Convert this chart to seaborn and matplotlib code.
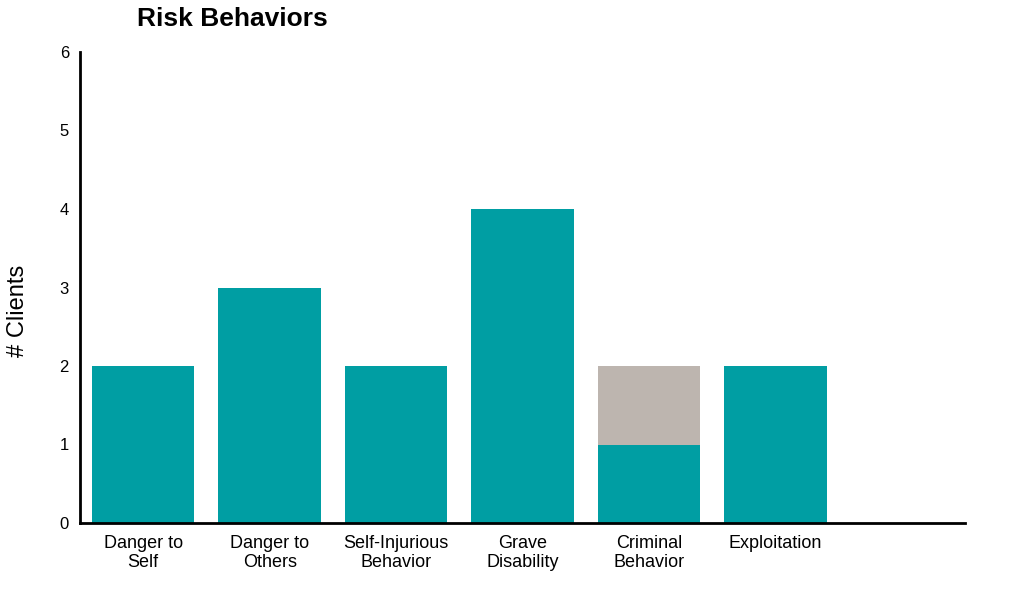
import matplotlib
matplotlib.use("Agg")
import matplotlib.pyplot as plt
import seaborn as sns
import pandas as pd

# dados
categories = ["Danger to\nSelf", "Danger to\nOthers", "Self-Injurious\nBehavior",
              "Grave\nDisability", "Criminal\nBehavior", "Exploitation"]
teal_counts = [2, 3, 2, 4, 1, 2]
gray_counts = [0, 0, 0, 0, 1, 0]
slot_order = categories + [" "]  # slot vazio no final do eixo

teal = "#009EA3"
gray = "#BDB5AF"

sns.set_style("white")
plt.rcParams["font.family"] = ["Liberation Sans", "DejaVu Sans"]
plt.rcParams["text.color"] = "black"
plt.rcParams["xtick.color"] = "black"
plt.rcParams["ytick.color"] = "black"
plt.rcParams["axes.labelcolor"] = "black"

df = pd.DataFrame({
    "cat": categories,
    "teal": teal_counts,
    "total": [a + b for a, b in zip(teal_counts, gray_counts)],
})

fig = plt.figure(figsize=(10.24, 5.89), dpi=100)
ax = fig.add_axes([80 / 1024, 1 - 523 / 589, 885 / 1024, 471 / 589])

# barra total (cinza) e depois a parte teal por cima
sns.barplot(data=df, x="cat", y="total", order=slot_order, color=gray,
            saturation=1, width=0.81, errorbar=None, linewidth=0, ax=ax)
sns.barplot(data=df, x="cat", y="teal", order=slot_order, color=teal,
            saturation=1, width=0.81, errorbar=None, linewidth=0, ax=ax)

ax.set_xlim(-0.5, 6.5)
ax.set_ylim(0, 6)
ax.set_yticks(range(0, 7))
ax.tick_params(axis="x", length=0, pad=9, labelsize=13)
ax.tick_params(axis="y", length=0, pad=8, labelsize=12)
for lbl in ax.get_xticklabels():
    lbl.set_linespacing(1.15)
ax.set_xlabel("")
ax.set_ylabel("# Clients", fontsize=17)
ax.yaxis.set_label_coords(-0.058, 0.45)

for side in ["top", "right"]:
    ax.spines[side].set_visible(False)
for side in ["left", "bottom"]:
    ax.spines[side].set_color("black")
    ax.spines[side].set_linewidth(2)

fig.text(232 / 1024, 1 - 19 / 589, "Risk Behaviors", ha="center", va="center",
         fontsize=19, fontweight="bold")

fig.savefig("out.png", dpi=100)
